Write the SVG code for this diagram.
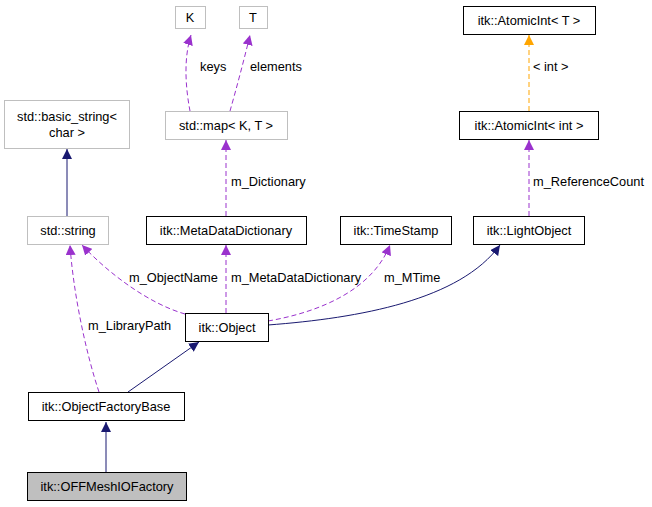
<svg xmlns="http://www.w3.org/2000/svg" width="652" height="507" viewBox="0 0 652 507">
<style>
text{font-family:"Liberation Sans",Arial,sans-serif;font-size:12.8px;fill:#000}
.n{fill:#fff;stroke:#000;stroke-width:1}
.g{fill:#fff;stroke:#bfbfbf;stroke-width:1}
.c{text-anchor:middle}
.p{fill:none;stroke:#9a32cd;stroke-dasharray:5,3}
.o{fill:none;stroke:#ffa500;stroke-dasharray:5,3}
.b{fill:none;stroke:#191970}
</style>
<defs>
<marker id="ap" viewBox="0 0 10 10" refX="10" refY="5" markerWidth="10" markerHeight="10" markerUnits="userSpaceOnUse" orient="auto"><path d="M0,0L10,5L0,10z" fill="#9a32cd"/></marker>
<marker id="ao" viewBox="0 0 10 10" refX="10" refY="5" markerWidth="10" markerHeight="10" markerUnits="userSpaceOnUse" orient="auto"><path d="M0,0L10,5L0,10z" fill="#ffa500"/></marker>
<marker id="ab" viewBox="0 0 10 10" refX="10" refY="5" markerWidth="10" markerHeight="10" markerUnits="userSpaceOnUse" orient="auto"><path d="M0,0L10,5L0,10z" fill="#191970"/></marker>
</defs>
<rect width="652" height="507" fill="#fff"/>
<g id="edges">
<path class="p" d="M190,111C186,90 183,60 191,35" marker-end="url(#ap)"/>
<text x="200" y="71">keys</text>
<path class="p" d="M230,111C236,90 244,60 250,35" marker-end="url(#ap)"/>
<text x="250" y="71">elements</text>
<path class="p" d="M226,216L226,140" marker-end="url(#ap)"/>
<text x="231" y="186">m_Dictionary</text>
<path class="o" d="M529,111L529,35" marker-end="url(#ao)"/>
<text x="533" y="71">&lt; int &gt;</text>
<path class="p" d="M529,216L529,140" marker-end="url(#ap)"/>
<text x="533" y="186">m_ReferenceCount</text>
<path class="b" d="M67,216L67,149" marker-end="url(#ab)"/>
<path class="p" d="M185,314C150,304 110,275 82,245" marker-end="url(#ap)"/>
<text x="129" y="282">m_ObjectName</text>
<path class="p" d="M99,392C85,350 73,290 70,245" marker-end="url(#ap)"/>
<text x="88" y="330">m_LibraryPath</text>
<path class="p" d="M226,313L226,245" marker-end="url(#ap)"/>
<text x="231" y="282">m_MetaDataDictionary</text>
<path class="p" d="M268,321C320,312 372,290 390,245" marker-end="url(#ap)"/>
<text x="384" y="282">m_MTime</text>
<path class="b" d="M268,325C360,318 460,300 500,245" marker-end="url(#ab)"/>
<path class="b" d="M128,392L199,342" marker-end="url(#ab)"/>
<path class="b" d="M106,472L106,422" marker-end="url(#ab)"/>
</g>
<g id="K"><rect class="g" x="175.5" y="6.5" width="30" height="22"/><text class="c" x="190" y="22">K</text></g>
<g id="T"><rect class="g" x="239.5" y="6.5" width="28" height="22"/><text class="c" x="253" y="22">T</text></g>
<g id="map"><rect class="g" x="165.5" y="111.5" width="122" height="28"/><text class="c" x="226" y="130">std::map&lt; K, T &gt;</text></g>
<g id="atomicT"><rect class="n" x="463.5" y="6.5" width="132" height="28"/><text class="c" x="529" y="25">itk::AtomicInt&lt; T &gt;</text></g>
<g id="atomicInt"><rect class="n" x="459.5" y="111.5" width="139" height="28"/><text class="c" x="529" y="130">itk::AtomicInt&lt; int &gt;</text></g>
<g id="basicstring"><rect class="g" x="4.5" y="100.5" width="125" height="48"/><text class="c" x="67" y="121">std::basic_string&lt;</text><text class="c" x="67" y="137">char &gt;</text></g>
<g id="stdstring"><rect class="g" x="27.5" y="216.5" width="81" height="28"/><text class="c" x="68" y="235">std::string</text></g>
<g id="mdd"><rect class="n" x="146.5" y="216.5" width="160" height="28"/><text class="c" x="226" y="235">itk::MetaDataDictionary</text></g>
<g id="ts"><rect class="n" x="340.5" y="216.5" width="111" height="28"/><text class="c" x="396" y="235">itk::TimeStamp</text></g>
<g id="lo"><rect class="n" x="473.5" y="216.5" width="111" height="28"/><text class="c" x="529" y="235">itk::LightObject</text></g>
<g id="obj"><rect class="n" x="185.5" y="313.5" width="83" height="28"/><text class="c" x="227" y="332">itk::Object</text></g>
<g id="ofb"><rect class="n" x="28.5" y="392.5" width="156" height="28"/><text class="c" x="106" y="411">itk::ObjectFactoryBase</text></g>
<g id="off"><rect x="27.5" y="472.5" width="159" height="28" fill="#bfbfbf" stroke="#000"/><text class="c" x="107" y="491">itk::OFFMeshIOFactory</text></g>
</svg>
